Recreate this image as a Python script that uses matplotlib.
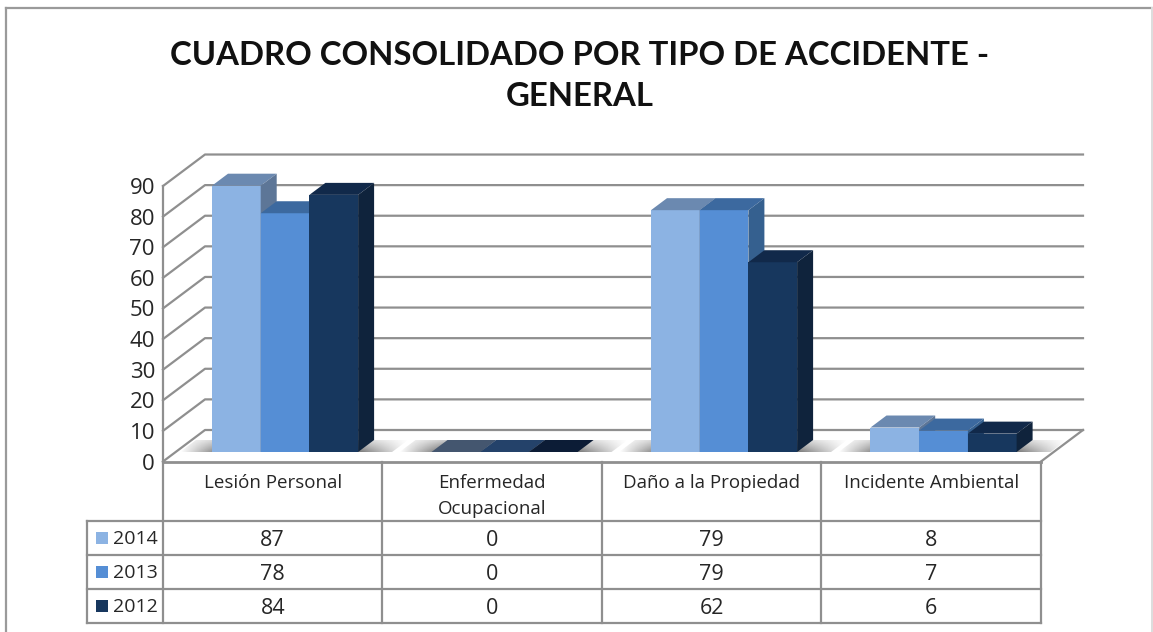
"""Consolidated accident chart with a fake 3D column look and a data table."""

import matplotlib

matplotlib.use("Agg")
import matplotlib.pyplot as plt
import numpy as np
from matplotlib.patches import Polygon, Rectangle

categories = ["Lesión Personal", "Enfermedad\nOcupacional", "Daño a la Propiedad", "Incidente Ambiental"]
years = ["2014", "2013", "2012"]
values_2014 = [87, 0, 79, 8]
values_2013 = [78, 0, 79, 7]
values_2012 = [84, 0, 62, 6]
y_ticks = [0, 10, 20, 30, 40, 50, 60, 70, 80, 90]
title = "CUADRO CONSOLIDADO POR TIPO DE ACCIDENTE -\nGENERAL"

series = [values_2014, values_2013, values_2012]
front_colors = ["#8cb3e3", "#558ed5", "#17375e"]
top_colors = ["#6b89b0", "#3c699f", "#11294a"]
side_colors = ["#5d7697", "#35608f", "#0f233c"]
zero_colors = ["#44566f", "#24426a", "#0c1c36"]
grid_color = "#8f8f8f"
text_color = "#262626"

W, H = 1153, 632
PX_X = 219.5  # pixels per category
PX_Y = 3.061  # pixels per value unit
X0, Y0 = 163, 461.5  # pixel position of the chart origin


def dx(px):
    return px / PX_X


def dy(px):
    return px / PX_Y


fig = plt.figure(figsize=(W / 100, H / 100), dpi=100, facecolor="white")
ax = fig.add_axes([0, 0, 1, 1])
ax.axis("off")

# outer frame, it runs off the bottom of the picture
ax.plot([dx(6 - X0)] * 2, [dy(Y0 - 640), dy(Y0 - 8)], color="#9a9a9a", lw=1.6, zorder=0)
ax.plot([dx(6 - X0), dx(1152 - X0)], [dy(Y0 - 8)] * 2, color="#9a9a9a", lw=1.6, zorder=0)
ax.plot([dx(1152 - X0)] * 2, [dy(Y0 - 8), dy(Y0 - 640)], color="#dddddd", lw=1.4, zorder=0)

back_x, back_y = dx(42), dy(31.5)

# walls: back gridlines and diagonals on the left side
for v in y_ticks:
    ax.plot([dx(0), back_x, 4 + back_x], [v, v + back_y, v + back_y], color=grid_color, lw=1.6, zorder=1)
    ax.text(dx(-8), v - dy(2.5), str(v), ha="right", va="center", fontsize=16, family="Open Sans", color=text_color)
ax.plot([0, 0], [0, 90], color=grid_color, lw=1.6, zorder=1)
ax.plot([4, 4 + back_x], [0, back_y], color=grid_color, lw=1.6, zorder=1)

# floor shadows, gradient strips that fade sideways and towards the back
ramp = np.concatenate([np.linspace(0, 1, 24), np.ones(70), np.linspace(1, 0, 30)])
fade = np.linspace(1.0, 0.35, 16)[:, None]
bar_w = dx(48.7)
lift = dy(9.5)
depth_x, depth_y = dx(16), dy(12)
for i in range(4):
    left = i + dx(49)
    x0, x1 = left - dx(32), left + 3 * bar_w + dx(50)
    rgba = np.zeros((len(fade), len(ramp), 4))
    rgba[..., :3] = 0.4
    rgba[..., 3] = fade * ramp * 0.95
    im = ax.imshow(rgba, extent=(x0, x1, lift, lift + depth_y), origin="lower", aspect="auto", zorder=2,
                   interpolation="bilinear")
    clip = Polygon(
        [(x0, lift), (x1 - depth_x, lift), (x1, lift + depth_y), (x0 + depth_x, lift + depth_y)],
        transform=ax.transData,
    )
    im.set_clip_path(clip)

# columns
for s, vals in enumerate(series):
    for i, v in enumerate(vals):
        left = i + dx(49) + s * bar_w
        base = lift
        top = base + v
        if v == 0:
            ax.add_patch(Polygon(
                [(left, base), (left + bar_w, base), (left + bar_w + depth_x, base + depth_y), (left + depth_x, base + depth_y)],
                fc=zero_colors[s], ec="none", zorder=3 + s,
            ))
            continue
        ax.bar(left, v, bar_w, bottom=base, align="edge", color=front_colors[s], zorder=3 + s)
        ax.add_patch(Polygon(
            [(left, top), (left + bar_w, top), (left + bar_w + depth_x, top + depth_y), (left + depth_x, top + depth_y)],
            fc=top_colors[s], ec="none", zorder=3 + s,
        ))
        ax.add_patch(Polygon(
            [(left + bar_w, base), (left + bar_w + depth_x, base + depth_y), (left + bar_w + depth_x, top + depth_y), (left + bar_w, top)],
            fc=side_colors[s], ec="none", zorder=3 + s,
        ))

# data table below the plot
row_edges = [dy(Y0 - p) for p in (461.5, 521, 555, 589, 623)]
legend_left = dx(87 - X0)
ax.plot([0, 4], [0, 0], color=grid_color, lw=2, zorder=8)
for y in row_edges[1:]:
    ax.plot([legend_left, 4], [y, y], color=grid_color, lw=1.6, zorder=8)
for i in range(5):
    ax.plot([i, i], [row_edges[0], row_edges[-1]], color=grid_color, lw=1.6, zorder=8)
ax.plot([legend_left, legend_left], [row_edges[1], row_edges[-1]], color=grid_color, lw=1.6, zorder=8)

for i, name in enumerate(categories):
    ax.text(i + 0.5, row_edges[0] - dy(13), name, ha="center", va="top", fontsize=13.5, family="Open Sans",
            color=text_color, linespacing=1.55)

for s, vals in enumerate(series):
    y = (row_edges[s + 1] + row_edges[s + 2]) / 2
    ax.add_patch(Rectangle((dx(96 - X0), y - dy(5.5)), dx(11.5), dy(11.5), fc=front_colors[s], ec="none", zorder=9))
    ax.text(dx(113 - X0), y - dy(1), years[s], ha="left", va="center", fontsize=14, family="Open Sans", color=text_color)
    for i, v in enumerate(vals):
        ax.text(i + 0.5, y - dy(2.5), str(v), ha="center", va="center", fontsize=15.5, family="Open Sans", color=text_color)

fig.text(580 / W, 1 - 76 / H, title, ha="center", va="center", fontsize=23.7, fontweight="bold", family="Lato",
         color="#111111", linespacing=1.52)

ax.set_xlim(-X0 / PX_X, (W - X0) / PX_X)
ax.set_ylim((Y0 - H) / PX_Y, Y0 / PX_Y)

fig.savefig("out.png", dpi=100, facecolor=fig.get_facecolor())
plt.close(fig)
